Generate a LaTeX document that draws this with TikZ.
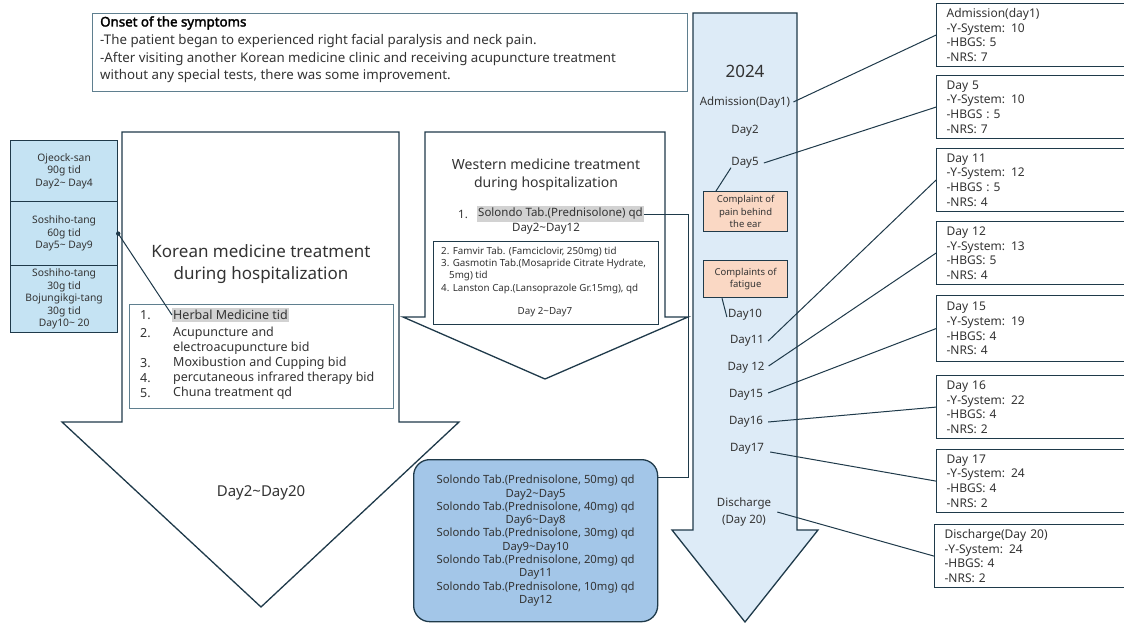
\documentclass[tikz,border=0pt]{standalone}
\usepackage{fontspec}
\setmainfont{Noto Sans}
\newfontfamily\titlebold{Noto Sans}[FakeBold=2.2]
\usetikzlibrary{calc}
\definecolor{edge}{HTML}{1F3A4A}
\definecolor{topedge}{HTML}{5F7F8F}
\definecolor{lightbl}{HTML}{DDEBF7}
\definecolor{herbbl}{HTML}{C5E3F3}
\definecolor{midbl}{HTML}{A3C6E8}
\definecolor{peach}{HTML}{FAD8C4}
\definecolor{hl}{HTML}{D2D2D2}
\definecolor{txt}{HTML}{333333}
\newcommand{\fs}[2]{\fontsize{#1}{#2}\selectfont}
\begin{document}
\begin{tikzpicture}[x=1pt,y=-1pt,
  every node/.style={text=txt, inner sep=0pt},
  bigarrow/.style={draw=edge, line width=1.3pt, fill=white, line join=miter},
  conn/.style={draw=edge, line width=1pt},
  rbox/.style={draw=edge, line width=1.2pt, fill=white, anchor=north west, minimum width=200pt, minimum height=63pt, text width=180pt, align=left, inner xsep=10pt, font=\fs{12}{14.7}},
  lbox/.style={draw=edge, line width=1.2pt, fill=herbbl, minimum width=107pt, align=center, font=\fs{10.3}{12.4}},
  cbox/.style={draw=edge, line width=1.2pt, fill=peach, minimum width=84pt, align=center, font=\fs{9.5}{12.2}},
  tl/.style={font=\fs{11.5}{14}},
  toptext/.style={anchor=west, font=\fs{13.3}{15}},
]
\useasboundingbox (0,0) rectangle (1124,623);
\fill[white] (0,0) rectangle (1124,623);

% ---- top box
\node[draw=topedge, line width=1pt, anchor=north west, minimum width=595pt, minimum height=78pt] (top) at (92,13) {};
\node[toptext, font=\fs{13.3}{15}\titlebold, text=black] (t0) at (100,23) {Onset of the symptoms};
\node[toptext] (t1) at (100,41) {-The patient began to experienced right facial paralysis and neck pain.};
\node[toptext] (t2) at (100,59) {-After visiting another Korean medicine clinic and receiving acupuncture treatment};
\node[toptext] (t3) at (100,76) {without any special tests, there was some improvement.};

% ---- Korean arrow
\path[bigarrow] (122,132) -- (399,132) -- (399,422) -- (459,422) -- (261,607) -- (62,422) -- (122,422) -- cycle;
\node[align=center, font=\fs{17}{22}] (ktitle) at (261,264) {Korean medicine treatment\\during hospitalization};
\node[font=\fs{15}{18}] (kday) at (261,493) {Day2\textasciitilde Day20};
\node[draw=topedge, line width=1pt, fill=white, anchor=north west, minimum width=264pt, minimum height=104pt] (klist) at (129,304) {};
\node[anchor=west, font=\fs{12.5}{15}] (k1n) at (140,315) {1.};
\node[anchor=west, fill=hl, font=\fs{12.5}{15}, inner ysep=2.5pt, inner xsep=1pt] (herb) at (172,315) {Herbal Medicine tid};
\node[anchor=west, font=\fs{12.5}{15}] (k2n) at (140,333) {2.};
\node[anchor=west, font=\fs{12.5}{15}] (k2) at (173,333) {Acupuncture and};
\node[anchor=west, font=\fs{12.5}{15}] (k2b) at (173,348) {electroacupuncture bid};
\node[anchor=west, font=\fs{12.5}{15}] (k3n) at (140,363) {3.};
\node[anchor=west, font=\fs{12.5}{15}] (k3) at (173,363) {Moxibustion and Cupping bid};
\node[anchor=west, font=\fs{12.5}{15}] (k4n) at (140,378) {4.};
\node[anchor=west, font=\fs{12.5}{15}] (k4) at (173,378) {percutaneous infrared therapy bid};
\node[anchor=west, font=\fs{12.5}{15}] (k5n) at (140,393) {5.};
\node[anchor=west, font=\fs{12.5}{15}] (k5) at (173,393) {Chuna treatment qd};

% ---- left herbal boxes
\node[lbox, anchor=north west, minimum height=61pt] (sb1) at (10,140) {Ojeock-san\\90g tid\\Day2\textasciitilde{} Day4};
\node[lbox, anchor=north west, minimum height=64pt] (sb2) at (10,201) {Soshiho-tang\\60g tid\\Day5\textasciitilde{} Day9};
\node[lbox, anchor=north west, minimum height=67pt] (sb3) at (10,265) {Soshiho-tang\\30g tid\\Bojungikgi-tang\\30g tid\\Day10\textasciitilde{} 20};
\draw[conn] (herb.west) -- (sb2.east);
\fill[edge] (sb2.east) circle (2.2);

% ---- Western arrow
\path[bigarrow] (425,132) -- (665,132) -- (665,317) -- (688,317) -- (545,379) -- (403,317) -- (425,317) -- cycle;
\node[align=center, font=\fs{14}{18}] (wtitle) at (546,175) {Western medicine treatment\\during hospitalization};
\node[anchor=west, font=\fs{11.5}{14}] (w1n) at (458,214) {1.};
\node[anchor=west, fill=hl, font=\fs{11.5}{14}, inner ysep=2.5pt, inner xsep=1pt] (sol) at (477,214) {Solondo Tab.(Prednisolone) qd};
\node[font=\fs{11.5}{14}] (wday) at (546,229) {Day2\textasciitilde Day12};
\node[draw=edge, line width=1pt, fill=white, anchor=north west, minimum width=225pt, minimum height=83pt] (wlist) at (433,241) {};
\node[anchor=west, font=\fs{9.8}{12}] (w2) at (441,252) {2. Famvir Tab. (Famciclovir, 250mg) tid};
\node[anchor=west, font=\fs{9.8}{12}] (w3) at (441,264) {3. Gasmotin Tab.(Mosapride Citrate Hydrate,};
\node[anchor=west, font=\fs{9.8}{12}] (w3b) at (449,276) {5mg) tid};
\node[anchor=west, font=\fs{9.8}{12}] (w4) at (441,289) {4. Lanston Cap.(Lansoprazole Gr.15mg), qd};
\node[font=\fs{9.8}{12}] (w5) at (545,312) {Day 2\textasciitilde Day7};

% ---- Steroid taper box
\node[draw=edge, line width=1.3pt, fill=midbl, rounded corners=16pt, anchor=north west, minimum width=244pt, minimum height=162pt, align=center, font=\fs{11.3}{13.3}] (blue) at (413,459)
{Solondo Tab.(Prednisolone, 50mg) qd\\Day2\textasciitilde Day5\\Solondo Tab.(Prednisolone, 40mg) qd\\Day6\textasciitilde Day8\\Solondo Tab.(Prednisolone, 30mg) qd\\Day9\textasciitilde Day10\\Solondo Tab.(Prednisolone, 20mg) qd\\Day11\\Solondo Tab.(Prednisolone, 10mg) qd\\Day12};
\coordinate (bend) at (688,477);
\draw[conn] (sol.east) -| (bend) -- (bend -| blue.east);

% ---- timeline arrow
\path[draw=edge, line width=1.3pt, fill=lightbl] (693,13) -- (797,13) -- (797,530) -- (818,530) -- (745,622) -- (672,530) -- (693,530) -- cycle;
\node[font=\fs{17}{20}] (y2024) at (745,71) {2024};
\node[tl] (adm) at (745,103) {Admission(Day1)};
\node[tl] (d2) at (745,131) {Day2};
\node[tl] (d5) at (745,163) {Day5};
\node[cbox, anchor=north west, minimum height=40pt] (c1) at (703,191) {Complaint of\\pain behind\\the ear};
\node[cbox, anchor=north west, minimum height=37pt] (c2) at (703,260) {Complaints of\\fatigue};
\node[tl] (d10) at (745,315) {Day10};
\node[tl] (d11) at (747,341) {Day11};
\node[tl] (d12) at (746,368) {Day 12};
\node[tl] (d15) at (746,395) {Day15};
\node[tl] (d16) at (746,422) {Day16};
\node[tl] (d17) at (747,449) {Day17};
\node[tl, align=center, font=\fs{11.5}{16.5}] (dis) at (744,512) {Discharge\\(Day 20)};

\draw[conn] ([xshift=-14pt,yshift=1pt]d5.south) -- ([xshift=13pt]c1.north west);
\draw[conn] ([xshift=19pt]c2.south west) -- ([xshift=-1pt,yshift=-2pt]d10.west);

% ---- right score boxes
\node[rbox] (r1) at (936,3) {Admission(day1)\\-Y-System: 10\\-HBGS: 5\\-NRS: 7};
\node[rbox] (r2) at (936,75) {Day 5\\-Y-System: 10\\-HBGS : 5\\-NRS: 7};
\node[rbox] (r3) at (936,148) {Day 11\\-Y-System: 12\\-HBGS : 5\\-NRS: 4};
\node[rbox] (r4) at (936,221) {Day 12\\-Y-System: 13\\-HBGS: 5\\-NRS: 4};
\node[rbox, minimum height=66pt] (r5) at (936,295) {Day 15\\-Y-System: 19\\-HBGS: 4\\-NRS: 4};
\node[rbox] (r6) at (936,375) {Day 16\\-Y-System: 22\\-HBGS: 4\\-NRS: 2};
\node[rbox] (r7) at (936,449) {Day 17\\-Y-System: 24\\-HBGS: 4\\-NRS: 2};
\node[rbox, inner xsep=8pt] (r8) at (934,524) {Discharge(Day 20)\\-Y-System: 24\\-HBGS: 4\\-NRS: 2};

\draw[conn] ([xshift=3pt,yshift=1pt]adm.east) -- (r1.west);
\draw[conn] ([xshift=5pt]d5.east) -- (r2.west);
\draw[conn] ([xshift=4pt]d11.east) -- (r3.west);
\draw[conn] ([xshift=4pt,yshift=2pt]d12.east) -- (r4.west);
\draw[conn] ([xshift=5pt,yshift=2pt]d15.east) -- (r5.west);
\draw[conn] ([xshift=5pt]d16.east) -- (r6.west);
\draw[conn] ([xshift=6pt,yshift=-3pt]d17.east) -- (r7.west);
\draw[conn] ([xshift=6pt]dis.east) -- (r8.west);
\end{tikzpicture}
\end{document}
